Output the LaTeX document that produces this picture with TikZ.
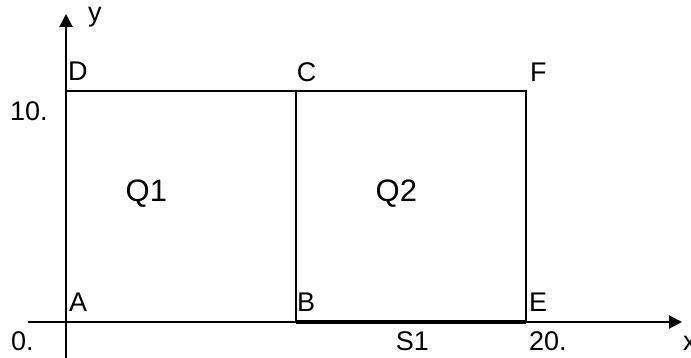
\documentclass[tikz,border=0pt]{standalone}
\usepackage{fontspec}
\setmainfont{Liberation Sans}
\usetikzlibrary{arrows.meta}
\begin{document}
\begin{tikzpicture}[x=1pt,y=-1pt,
  lbl/.style={anchor=base west,inner sep=0pt,font=\fontsize{27}{32}\selectfont},
  qlbl/.style={anchor=base west,inner sep=0pt,font=\fontsize{31}{36}\selectfont},
  axis/.style={line width=2pt,-{Triangle[length=13pt,width=13pt]}},
  edge/.style={line width=2pt},
  thickedge/.style={line width=4pt}]
\useasboundingbox (0,0) rectangle (691,358);
% corner points
\coordinate (A) at (66,322);
\coordinate (B) at (296,322);
\coordinate (C) at (296,91);
\coordinate (D) at (66,91);
\coordinate (E) at (526,322);
\coordinate (F) at (526,91);
\coordinate (xs) at (28,322);
\coordinate (xe) at (682,322);
\coordinate (ys) at (66,360);
\coordinate (ye) at (66,14);
% axes
\draw[axis] (xs) -- (xe);
\draw[axis] (ys) -- (ye);
% rectangles
\draw[edge] (A) -- (D) -- (C) -- (B);
\draw[edge] (C) -- (F) -- (E) -- (B);
\draw[thickedge,line cap=butt] (B) -- (E);
% labels
\node[lbl] (lA) at (69,312) {A};
\node[lbl] (lB) at (297,312) {B};
\node[lbl] (lC) at (296.6,82) {C};
\node[lbl] (lD) at (68,80.5) {D};
\node[lbl] (lE) at (529,312) {E};
\node[lbl] (lF) at (530,82) {F};
\node[lbl] (l10) at (9.8,120.5) {10.};
\node[lbl] (l0) at (11,350) {0.};
\node[lbl] (lS) at (395.7,350) {S1};
\node[lbl] (l20) at (529,350) {20.};
\node[lbl] (lx) at (683,350) {x};
\node[lbl] (ly) at (88,22) {y};
\node[qlbl] (q1) at (125.5,201.5) {Q1};
\node[qlbl] (q2) at (375.5,201.5) {Q2};
\end{tikzpicture}
\end{document}
